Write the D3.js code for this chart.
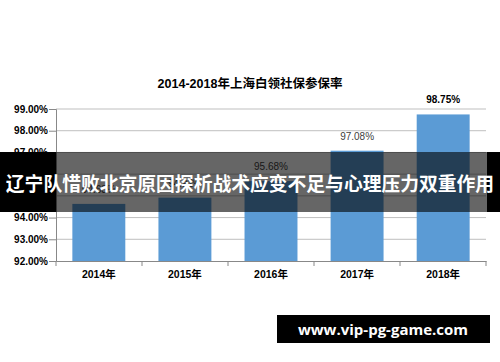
<!DOCTYPE html>
<html><head><meta charset="utf-8">
<script src="https://cdn.jsdelivr.net/npm/d3@7"></script>
<style>body{margin:0;background:#fff}svg{display:block}</style>
</head><body>
<script>
const categories = ["2014年","2015年","2016年","2017年","2018年"];
const values = [94.63, 94.92, 95.68, 97.08, 98.75];
const labelBold = [false, false, false, false, true];
const yTicks = [92,93,94,95,96,97,98,99];
const title = "2014-2018年上海白领社保参保率";
const bannerText = "辽宁队惜败北京原因探析战术应变不足与心理压力双重作用";
const watermark = "www.vip-pg-game.com";

(function(){
const W=500,H=362;
const svg=d3.select("body").append("svg").attr("width",W).attr("height",H);
const pL=56,pR=486,pT=109,pB=261;
const x=d3.scaleBand().domain(categories).range([pL,pR]).paddingInner(0.385).paddingOuter(0.19);
const y=d3.scaleLinear().domain([92,99]).range([pB,pT]);
const font="Arial, 'Liberation Sans', 'Noto Sans CJK SC', sans-serif";

svg.append("text").attr("x",250).attr("y",88).attr("text-anchor","middle")
  .attr("font-family",font).attr("font-weight","bold").attr("font-size",12.5).attr("fill","#000").text(title);

// grid
svg.append("g").selectAll("line").data(yTicks.slice(1)).join("line")
  .attr("x1",pL).attr("x2",pR).attr("y1",d=>y(d)).attr("y2",d=>y(d))
  .attr("stroke","#bfbfbf").attr("stroke-width",1);

// y axis
const ya=svg.append("g").attr("transform",`translate(${pL},0)`)
  .call(d3.axisLeft(y).tickValues(yTicks).tickFormat(d=>d.toFixed(2)+"%").tickSize(7).tickPadding(1));
ya.select(".domain").attr("stroke","#888");
ya.selectAll(".tick line").attr("stroke","#888");
ya.selectAll("text").attr("font-family",font).attr("font-weight","bold").attr("font-size",10).attr("fill","#000");

// bars
svg.append("g").selectAll("rect").data(values).join("rect")
  .attr("x",(d,i)=>x(categories[i])).attr("width",x.bandwidth())
  .attr("y",d=>y(d)).attr("height",d=>pB-y(d)).attr("fill","#5b9bd5");

// value labels
svg.append("g").selectAll("text").data(values).join("text")
  .attr("x",(d,i)=>x(categories[i])+x.bandwidth()/2).attr("y",d=>y(d)-11)
  .attr("text-anchor","middle").attr("font-family",font).attr("font-size",10)
  .attr("font-weight",(d,i)=>labelBold[i]?"bold":"normal")
  .attr("fill",(d,i)=>labelBold[i]?"#000":"#404040")
  .text(d=>d.toFixed(2)+"%");

// x axis
const xa=svg.append("g").attr("transform",`translate(0,${pB})`)
  .call(d3.axisBottom(x).tickSize(0).tickPadding(10));
xa.select(".domain").attr("stroke","#888");
xa.selectAll("text").attr("font-family",font).attr("font-weight","bold").attr("font-size",10.5).attr("fill","#000");
svg.append("g").selectAll("line").data(d3.range(categories.length+1)).join("line")
  .attr("x1",i=>pL+i*(pR-pL)/categories.length).attr("x2",i=>pL+i*(pR-pL)/categories.length)
  .attr("y1",pB).attr("y2",pB+5).attr("stroke","#888");

// banner
svg.append("rect").attr("x",0).attr("y",152).attr("width",pL).attr("height",60).attr("fill","#000");
svg.append("rect").attr("x",pR+1).attr("y",152).attr("width",W-pR-1).attr("height",60).attr("fill","#000");
svg.append("rect").attr("x",pL).attr("y",152).attr("width",pR+1-pL).attr("height",60).attr("fill","rgba(0,0,0,0.6)");
svg.append("text").attr("x",250).attr("y",191).attr("text-anchor","middle")
  .attr("font-family","'Noto Sans CJK SC', sans-serif").attr("font-weight","bold").attr("font-size",18.8)
  .attr("fill","#fff").text(bannerText);

// watermark
svg.append("rect").attr("x",277).attr("y",315).attr("width",213).attr("height",28).attr("fill","#000");
svg.append("text").attr("x",383).attr("y",334.5).attr("text-anchor","middle")
  .attr("font-family","'Open Sans', 'DejaVu Sans', sans-serif").attr("font-weight","bold").attr("font-size",15)
  .attr("fill","#fff").text(watermark);
})();
</script>
</body></html>
